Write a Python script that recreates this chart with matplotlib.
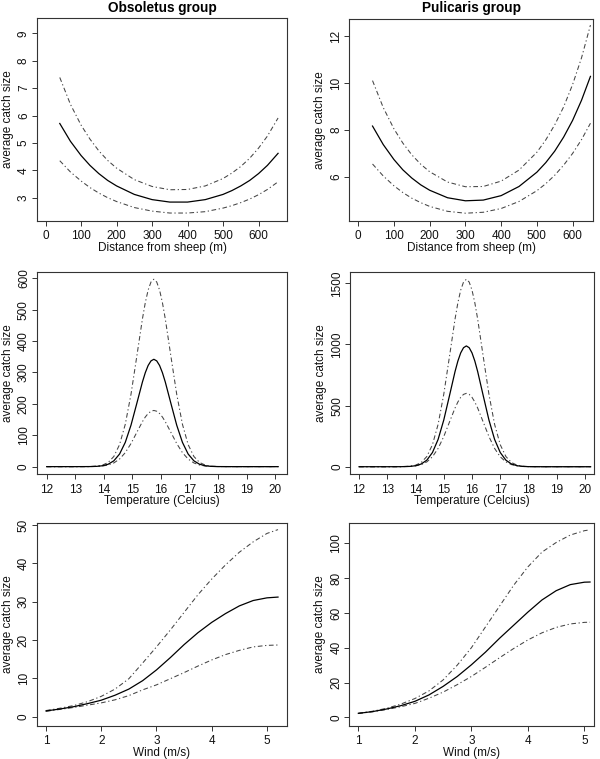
import matplotlib
matplotlib.use("Agg")
import matplotlib.pyplot as plt

plt.rcParams['font.family'] = ['Liberation Sans', 'DejaVu Sans']

# ---------------- data ----------------
titles = ["Obsoletus group", "Pulicaris group"]
ylabel = "average catch size"

# Row 1: distance from sheep
obs_dist_x = [40, 70, 100, 125, 150, 175, 200, 250, 300, 350, 400, 450, 500, 525, 550, 575, 600, 625, 655]
obs_dist_mean = [5.71, 5.06, 4.54, 4.18, 3.88, 3.63, 3.43, 3.12, 2.93, 2.84, 2.84, 2.93, 3.12, 3.26, 3.43, 3.63, 3.88, 4.18, 4.62]
obs_dist_upper = [7.39, 6.41, 5.65, 5.14, 4.71, 4.36, 4.08, 3.66, 3.41, 3.29, 3.30, 3.43, 3.70, 3.90, 4.14, 4.44, 4.81, 5.25, 5.91]
obs_dist_lower = [4.35, 3.94, 3.61, 3.37, 3.17, 3.00, 2.86, 2.64, 2.51, 2.44, 2.44, 2.49, 2.62, 2.71, 2.82, 2.95, 3.11, 3.30, 3.58]

pul_dist_x = [40, 70, 100, 125, 150, 175, 200, 250, 300, 350, 400, 450, 500, 525, 550, 575, 600, 625, 650]
pul_dist_mean = [8.16, 7.37, 6.73, 6.29, 5.94, 5.65, 5.42, 5.10, 4.97, 5.00, 5.19, 5.58, 6.19, 6.60, 7.09, 7.69, 8.40, 9.26, 10.28]
pul_dist_upper = [10.10, 8.95, 8.04, 7.43, 6.93, 6.53, 6.21, 5.77, 5.57, 5.58, 5.81, 6.28, 7.04, 7.57, 8.21, 8.98, 9.93, 11.07, 12.47]
pul_dist_lower = [6.54, 6.03, 5.61, 5.32, 5.08, 4.89, 4.73, 4.52, 4.44, 4.48, 4.64, 4.94, 5.40, 5.70, 6.06, 6.49, 6.99, 7.58, 8.28]

# Row 2: temperature
obs_temp_x = [12.0, 13.0, 13.5, 13.75, 13.95, 14.15, 14.35, 14.55, 14.75, 14.95, 15.15, 15.35,
              15.45, 15.55, 15.65, 15.75, 15.85, 15.95, 16.05,
              16.15, 16.35, 16.55, 16.75, 16.95, 17.15, 17.35, 17.55, 17.75, 18.0, 18.5, 19.0, 20.1]
obs_temp_upper = [0, 0, 0.3, 1.6, 4.8, 13.3, 32.4, 70.2, 135.0, 230.6, 349.6, 470.7,
                  522.3, 562.6, 588.2, 597, 588.2, 562.6, 522.3,
                  470.7, 349.6, 230.6, 135.0, 70.2, 32.4, 13.3, 4.8, 1.6, 0.3, 0, 0, 0]
obs_temp_mean = [0, 0, 0.2, 0.9, 2.8, 7.6, 18.6, 40.2, 77.4, 132.1, 200.3, 269.6,
                 299.2, 322.3, 336.9, 342, 336.9, 322.3, 299.2,
                 269.6, 200.3, 132.1, 77.4, 40.2, 18.6, 7.6, 2.8, 0.9, 0.2, 0, 0, 0]
obs_temp_lower = [0, 0, 0.2, 0.7, 2.0, 5.1, 11.8, 24.2, 44.6, 73.6, 108.6, 143.3,
                  158.0, 169.3, 176.5, 179, 176.5, 169.3, 158.0,
                  143.3, 108.6, 73.6, 44.6, 24.2, 11.8, 5.1, 2.0, 0.7, 0.2, 0, 0, 0]

pul_temp_x = [12.0, 13.0, 13.5, 13.8, 14.0, 14.2, 14.4, 14.6, 14.8, 15.0, 15.2, 15.4,
              15.5, 15.6, 15.7, 15.8, 15.9, 16.0, 16.1,
              16.2, 16.4, 16.6, 16.8, 17.0, 17.2, 17.4, 17.6, 17.8, 18.0, 18.5, 19.0, 20.2]
pul_temp_upper = [0, 0, 0.6, 4.0, 12.4, 34.2, 83.2, 180.3, 346.8, 592.2, 897.7, 1208.6,
                  1341.1, 1444.5, 1510.3, 1533, 1510.3, 1444.5, 1341.1,
                  1208.6, 897.7, 592.2, 346.8, 180.3, 83.2, 34.2, 12.4, 4.0, 0.9, 0, 0, 0]
pul_temp_mean = [0, 0, 0.4, 2.6, 8.0, 22.0, 53.6, 116.2, 223.5, 381.7, 578.6, 778.9,
                 864.3, 931.0, 973.4, 988, 973.4, 931.0, 864.3,
                 778.9, 578.6, 381.7, 223.5, 116.2, 53.6, 22.0, 8.0, 2.6, 0.6, 0, 0, 0]
pul_temp_lower = [0, 0, 0.4, 2.3, 6.7, 17.2, 39.4, 81.2, 149.6, 246.7, 363.9, 480.4,
                  529.5, 567.6, 591.7, 600, 591.7, 567.6, 529.5,
                  480.4, 363.9, 246.7, 149.6, 81.2, 39.4, 17.2, 6.7, 2.3, 0.6, 0, 0, 0]

# Row 3: wind
obs_wind_x = [1.0, 1.25, 1.5, 1.75, 2.0, 2.25, 2.5, 2.75, 3.0, 3.25, 3.5, 3.75, 4.0, 4.25, 4.5, 4.75, 5.0, 5.2]
obs_wind_upper = [1.6, 2.2, 2.9, 3.9, 5.3, 7.2, 9.9, 14.0, 18.2, 22.6, 27.2, 31.8, 35.9, 39.6, 42.9, 45.6, 47.8, 48.8]
obs_wind_mean = [1.5, 2.0, 2.6, 3.4, 4.3, 5.6, 7.2, 9.4, 12.2, 15.4, 18.8, 21.9, 24.6, 26.9, 28.9, 30.3, 31.0, 31.2]
obs_wind_lower = [1.4, 1.9, 2.4, 3.0, 3.6, 4.4, 5.5, 7.0, 8.3, 9.9, 11.5, 13.2, 14.8, 16.2, 17.3, 18.2, 18.6, 18.7]

pul_wind_x = [1.0, 1.25, 1.5, 1.75, 2.0, 2.25, 2.5, 2.75, 3.0, 3.25, 3.5, 3.75, 4.0, 4.25, 4.5, 4.75, 5.0, 5.1]
pul_wind_upper = [2.4, 3.5, 5.2, 7.6, 10.8, 15.2, 21.5, 30.0, 40.0, 52.0, 64.0, 76.0, 86.5, 95.0, 100.5, 104.8, 107.3, 107.8]
pul_wind_mean = [2.3, 3.3, 4.8, 6.7, 9.2, 12.9, 17.8, 23.5, 30.2, 37.5, 45.5, 53.0, 60.5, 67.5, 72.8, 76.3, 77.7, 77.8]
pul_wind_lower = [2.2, 3.2, 4.5, 6.1, 8.0, 11.0, 14.5, 18.8, 23.5, 28.8, 34.3, 39.6, 44.5, 48.6, 51.7, 53.7, 54.6, 54.7]

xlabels = ["Distance from sheep (m)", "Temperature (Celcius)", "Wind (m/s)"]

# ---------------- layout ----------------
W, H = 600, 759
fig = plt.figure(figsize=(W / 100, H / 100), dpi=100)
fig.patch.set_facecolor('white')

panels = [
    ((36.7, 18.3, 287.3, 220.7), obs_dist_x, obs_dist_upper, obs_dist_mean, obs_dist_lower,
     (-25, 681), (2.16, 9.55), range(0, 601, 100), range(3, 10), xlabels[0]),
    ((349.3, 19.0, 593.3, 220.7), pul_dist_x, pul_dist_upper, pul_dist_mean, pul_dist_lower,
     (-25, 658), (4.12, 12.73), range(0, 601, 100), [6, 8, 10, 12], xlabels[0]),
    ((36.7, 271.7, 287.3, 474.3), obs_temp_x, obs_temp_upper, obs_temp_mean, obs_temp_lower,
     (11.65, 20.42), (-24.4, 621), range(12, 21), range(0, 601, 100), xlabels[1]),
    ((350.0, 271.7, 594.0, 474.3), pul_temp_x, pul_temp_upper, pul_temp_mean, pul_temp_lower,
     (11.68, 20.32), (-62, 1595), range(12, 21), [0, 500, 1000, 1500], xlabels[1]),
    ((36.7, 522.7, 287.3, 725.7), obs_wind_x, obs_wind_upper, obs_wind_mean, obs_wind_lower,
     (0.832, 5.368), (-2.35, 50.6), range(1, 6), range(0, 51, 10), xlabels[2]),
    ((349.3, 522.7, 594.0, 725.7), pul_wind_x, pul_wind_upper, pul_wind_mean, pul_wind_lower,
     (0.84, 5.17), (-4.8, 111.9), range(1, 6), range(0, 101, 20), xlabels[2]),
]

dashdot = (0, (4.5, 2.5, 1.2, 2.5))

for i, (box, x, up, mn, lo, xl, yl, xt, yt, xlab) in enumerate(panels):
    l, t, r, b = box
    wpx, hpx = r - l, b - t
    ax = fig.add_axes([l / W, 1 - b / H, wpx / W, hpx / H])
    ax.plot(x, up, color='#444444', lw=0.75, linestyle=dashdot)
    ax.plot(x, lo, color='#444444', lw=0.75, linestyle=dashdot)
    ax.plot(x, mn, color='black', lw=0.9, solid_joinstyle='round')
    ax.set_xlim(*xl)
    ax.set_ylim(*yl)
    ax.set_xticks(list(xt))
    ax.set_yticks(list(yt))
    for s in ax.spines.values():
        s.set_linewidth(0.8)
        s.set_color('#333333')
    ax.tick_params(axis='both', direction='out', length=3.6, width=0.7,
                   color='#333333', labelsize=8.5, labelcolor='#111111')
    ax.tick_params(axis='x', pad=3.4)
    ax.tick_params(axis='y', pad=1.3)
    for lab in ax.get_yticklabels():
        lab.set_rotation(90)
        lab.set_va('center')
    ax.set_xlabel(xlab, fontsize=8.5, color='#111111', va='center')
    ax.xaxis.set_label_coords(0.5, -27.0 / hpx)
    ax.set_ylabel(ylabel, fontsize=8.5, color='#111111', va='center')
    ax.yaxis.set_label_coords(-29.0 / wpx, 0.5)

fig.text(162.0 / W, 1 - 8.0 / H, titles[0], ha='center', va='center',
         fontsize=9.8, fontweight='bold')
fig.text(471.5 / W, 1 - 8.0 / H, titles[1], ha='center', va='center',
         fontsize=9.8, fontweight='bold')

fig.savefig("out.png", dpi=100, facecolor='white')
